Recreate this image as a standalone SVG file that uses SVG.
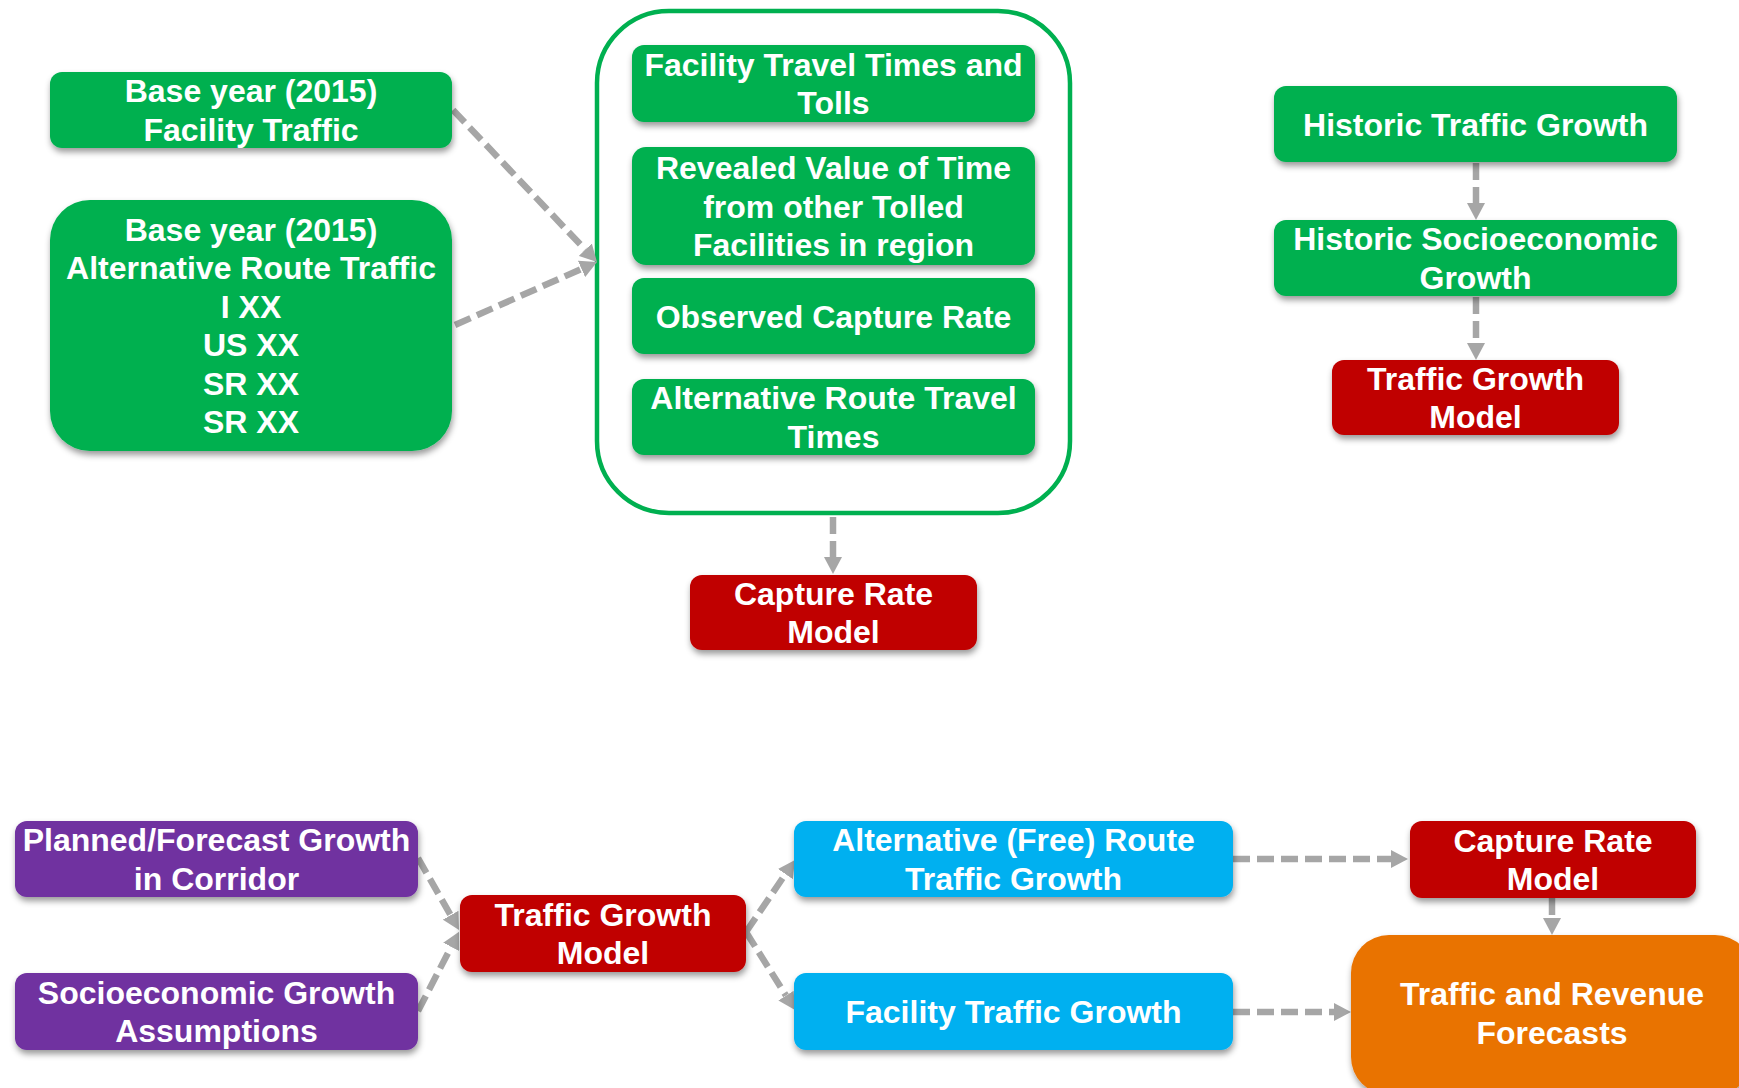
<svg xmlns="http://www.w3.org/2000/svg" width="1739" height="1088" viewBox="0 0 1739 1088">
<defs>
<filter id="sh" x="-10%" y="-20%" width="120%" height="150%">
<feDropShadow dx="1" dy="4" stdDeviation="3" flood-color="#000" flood-opacity="0.4"/>
</filter>
<marker id="ah" markerUnits="userSpaceOnUse" markerWidth="17" markerHeight="18" refX="0" refY="9" orient="auto" viewBox="0 0 17 18">
<path d="M0,0 L17,9 L0,18 z" fill="#A6A6A6"/>
</marker>
<style>
.t{font-family:"Liberation Sans",Arial,sans-serif;font-weight:bold;font-size:32px;fill:#fff;text-anchor:middle}
.g{fill:#00B050;filter:url(#sh)}
.r{fill:#C00000;filter:url(#sh)}
.p{fill:#7030A0;filter:url(#sh)}
.b{fill:#00B0F0;filter:url(#sh)}
.o{fill:#E97300;filter:url(#sh)}
.c{fill:none;stroke:#A6A6A6;stroke-width:6.5;stroke-dasharray:17 7;marker-end:url(#ah)}
</style>
</defs>
<rect width="1739" height="1088" fill="#fff"/>

<g id="container">
<rect x="597" y="11" width="473" height="502" rx="72" fill="#fff" stroke="#00B050" stroke-width="4.5"/>
</g>

<g id="connectors">
<line class="c" x1="453" y1="110" x2="585.3" y2="249.7"/>
<line class="c" x1="455" y1="325" x2="581.5" y2="268.9"/>
<line class="c" x1="833" y1="517" x2="833" y2="557"/>
<line class="c" x1="1476" y1="163" x2="1476" y2="203"/>
<line class="c" x1="1476" y1="297" x2="1476" y2="343"/>
<line class="c" x1="418" y1="858" x2="450.6" y2="915.2"/>
<line class="c" x1="418" y1="1011" x2="451.2" y2="946.9"/>
<line class="c" x1="746" y1="932" x2="785.4" y2="874.1"/>
<line class="c" x1="746" y1="932" x2="786" y2="995.6"/>
<line class="c" x1="1233" y1="859" x2="1391" y2="859"/>
<line class="c" x1="1233" y1="1012" x2="1334" y2="1012"/>
<line class="c" x1="1552" y1="898" x2="1552" y2="918"/>
</g>

<g id="base-facility">
<rect class="g" x="50" y="72" width="402" height="76" rx="12"/>
<text class="t" x="251" y="102">Base year (2015)</text>
<text class="t" x="251" y="140.5">Facility Traffic</text>
</g>

<g id="base-alternative">
<rect class="g" x="50" y="200" width="402" height="251" rx="40"/>
<text class="t" x="251" y="240.75">Base year (2015)</text>
<text class="t" x="251" y="279.25">Alternative Route Traffic</text>
<text class="t" x="251" y="317.75">I XX</text>
<text class="t" x="251" y="356.25">US XX</text>
<text class="t" x="251" y="394.75">SR XX</text>
<text class="t" x="251" y="433.25">SR XX</text>
</g>

<g id="facility-travel-times">
<rect class="g" x="632" y="45" width="403" height="77" rx="12"/>
<text class="t" x="833.5" y="75.75">Facility Travel Times and</text>
<text class="t" x="833.5" y="114.25">Tolls</text>
</g>

<g id="revealed-vot">
<rect class="g" x="632" y="147" width="403" height="118" rx="14"/>
<text class="t" x="833.5" y="179">Revealed Value of Time</text>
<text class="t" x="833.5" y="217.5">from other Tolled</text>
<text class="t" x="833.5" y="256">Facilities in region</text>
</g>

<g id="observed-capture">
<rect class="g" x="632" y="278" width="403" height="76" rx="12"/>
<text class="t" x="833.5" y="327.5">Observed Capture Rate</text>
</g>

<g id="alt-route-times">
<rect class="g" x="632" y="379" width="403" height="76" rx="12"/>
<text class="t" x="833.5" y="409.25">Alternative Route Travel</text>
<text class="t" x="833.5" y="447.75">Times</text>
</g>

<g id="capture-rate-top">
<rect class="r" x="690" y="575" width="287" height="75" rx="12"/>
<text class="t" x="833.5" y="604.75">Capture Rate</text>
<text class="t" x="833.5" y="643.25">Model</text>
</g>

<g id="historic-traffic">
<rect class="g" x="1274" y="86" width="403" height="76" rx="12"/>
<text class="t" x="1475.5" y="135.5">Historic Traffic Growth</text>
</g>

<g id="historic-socio">
<rect class="g" x="1274" y="220" width="403" height="76" rx="12"/>
<text class="t" x="1475.5" y="250.25">Historic Socioeconomic</text>
<text class="t" x="1475.5" y="288.75">Growth</text>
</g>

<g id="traffic-growth-top">
<rect class="r" x="1332" y="360" width="287" height="75" rx="12"/>
<text class="t" x="1475.5" y="389.75">Traffic Growth</text>
<text class="t" x="1475.5" y="428.25">Model</text>
</g>

<g id="planned-growth">
<rect class="p" x="15" y="821" width="403" height="76" rx="12"/>
<text class="t" x="216.5" y="851.25">Planned/Forecast Growth</text>
<text class="t" x="216.5" y="889.75">in Corridor</text>
</g>

<g id="socio-assumptions">
<rect class="p" x="15" y="973" width="403" height="77" rx="12"/>
<text class="t" x="216.5" y="1003.75">Socioeconomic Growth</text>
<text class="t" x="216.5" y="1042.25">Assumptions</text>
</g>

<g id="traffic-growth-bottom">
<rect class="r" x="460" y="895" width="286" height="77" rx="12"/>
<text class="t" x="603" y="925.75">Traffic Growth</text>
<text class="t" x="603" y="964.25">Model</text>
</g>

<g id="alt-free-route">
<rect class="b" x="794" y="821" width="439" height="76" rx="12"/>
<text class="t" x="1013.5" y="851.25">Alternative (Free) Route</text>
<text class="t" x="1013.5" y="889.75">Traffic Growth</text>
</g>

<g id="facility-growth">
<rect class="b" x="794" y="973" width="439" height="77" rx="12"/>
<text class="t" x="1013.5" y="1023">Facility Traffic Growth</text>
</g>

<g id="capture-rate-bottom">
<rect class="r" x="1410" y="821" width="286" height="77" rx="12"/>
<text class="t" x="1553" y="851.75">Capture Rate</text>
<text class="t" x="1553" y="890.25">Model</text>
</g>

<g id="forecasts">
<rect class="o" x="1351" y="935" width="402" height="160" rx="38"/>
<text class="t" x="1552" y="1005">Traffic and Revenue</text>
<text class="t" x="1552" y="1043.5">Forecasts</text>
</g>
</svg>
